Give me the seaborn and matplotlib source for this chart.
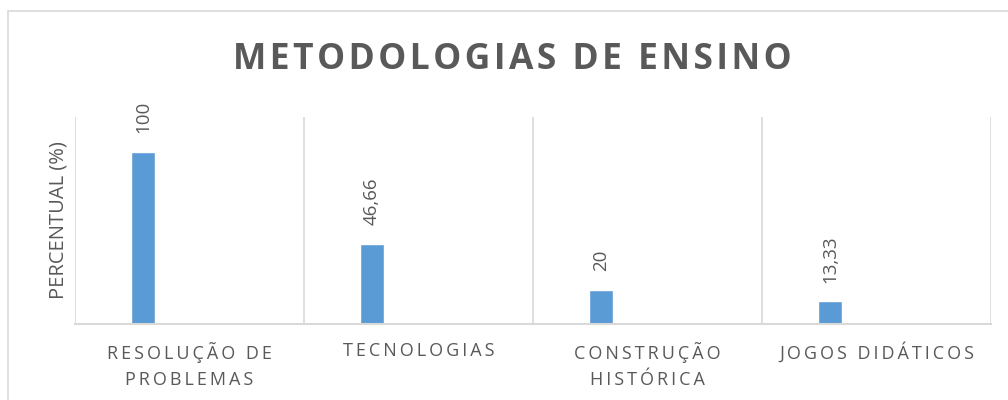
import numpy as np
import matplotlib.pyplot as plt
import seaborn as sns
from matplotlib.patches import Rectangle

# data
categories = ['RESOLUÇÃO DE\nPROBLEMAS', 'TECNOLOGIAS', 'CONSTRUÇÃO\nHISTÓRICA', 'JOGOS DIDÁTICOS']
values = [100, 46.66, 20, 13.33]
value_labels = ['100', '46,66', '20', '13,33']

sns.set_style('white')
plt.rcParams['font.family'] = ['Open Sans', 'DejaVu Sans']

GRAY = '#595959'
GRID = '#D9D9D9'
BLUE = '#5B9BD5'


def spaced(s, sep='\u2009'):
    # letter spacing like the Excel axis labels
    return '\n'.join(sep.join(line) for line in s.split('\n'))


fig = plt.figure(figsize=(10.08, 4.0), dpi=100)
ax = fig.add_axes([75 / 1008, 1 - 324 / 400, (991 - 75) / 1008, (324 - 117) / 400])

sns.barplot(x=categories, y=values, color=BLUE, width=0.105, saturation=1, ax=ax)
# bars sit on the left side of each category, as in the original
for p in ax.patches:
    p.set_x(p.get_x() - 0.203)

for p, lab in zip(ax.patches, value_labels):
    ax.annotate(lab, (p.get_x() + p.get_width() / 2, p.get_height()),
                xytext=(0, 13), textcoords='offset points', rotation=90,
                ha='center', va='bottom', fontsize=13.5, color=GRAY)

n = len(categories)
ax.set_xlim(-0.5, n - 0.5)
ax.set_ylim(0, 120)
ax.set_yticks([])
ax.set_xticks(range(n))
ax.set_xticklabels([spaced(c) for c in categories], fontsize=13, color=GRAY,
                   linespacing=1.6)
ax.set_xticks(np.arange(-0.5, n), minor=True)
ax.tick_params(axis='x', which='both', length=0, pad=13)
ax.grid(which='minor', axis='x', color=GRID, linewidth=1.2)
ax.set_axisbelow(True)
for s in ['left', 'right', 'top']:
    ax.spines[s].set_visible(False)
ax.spines['bottom'].set_color(GRID)
ax.spines['bottom'].set_linewidth(1.5)

ax.set_xlabel('')
ax.set_ylabel('PERCENTUAL (%)', fontsize=14.5, color=GRAY, labelpad=5)

fig.text(512 / 1008, 1 - 60 / 400, 'METODOLOGIAS DE ENSINO'.replace('', '\u200a').strip(),
         ha='center', va='center', fontsize=25.5, fontweight='bold', color=GRAY)

fig.patches.append(Rectangle((8 / 1008, -0.1), 1.2, 1 - 11 / 400 + 0.1,
                             transform=fig.transFigure, fill=False,
                             edgecolor=GRID, linewidth=1.2))

fig.savefig('out.png', dpi=100)
